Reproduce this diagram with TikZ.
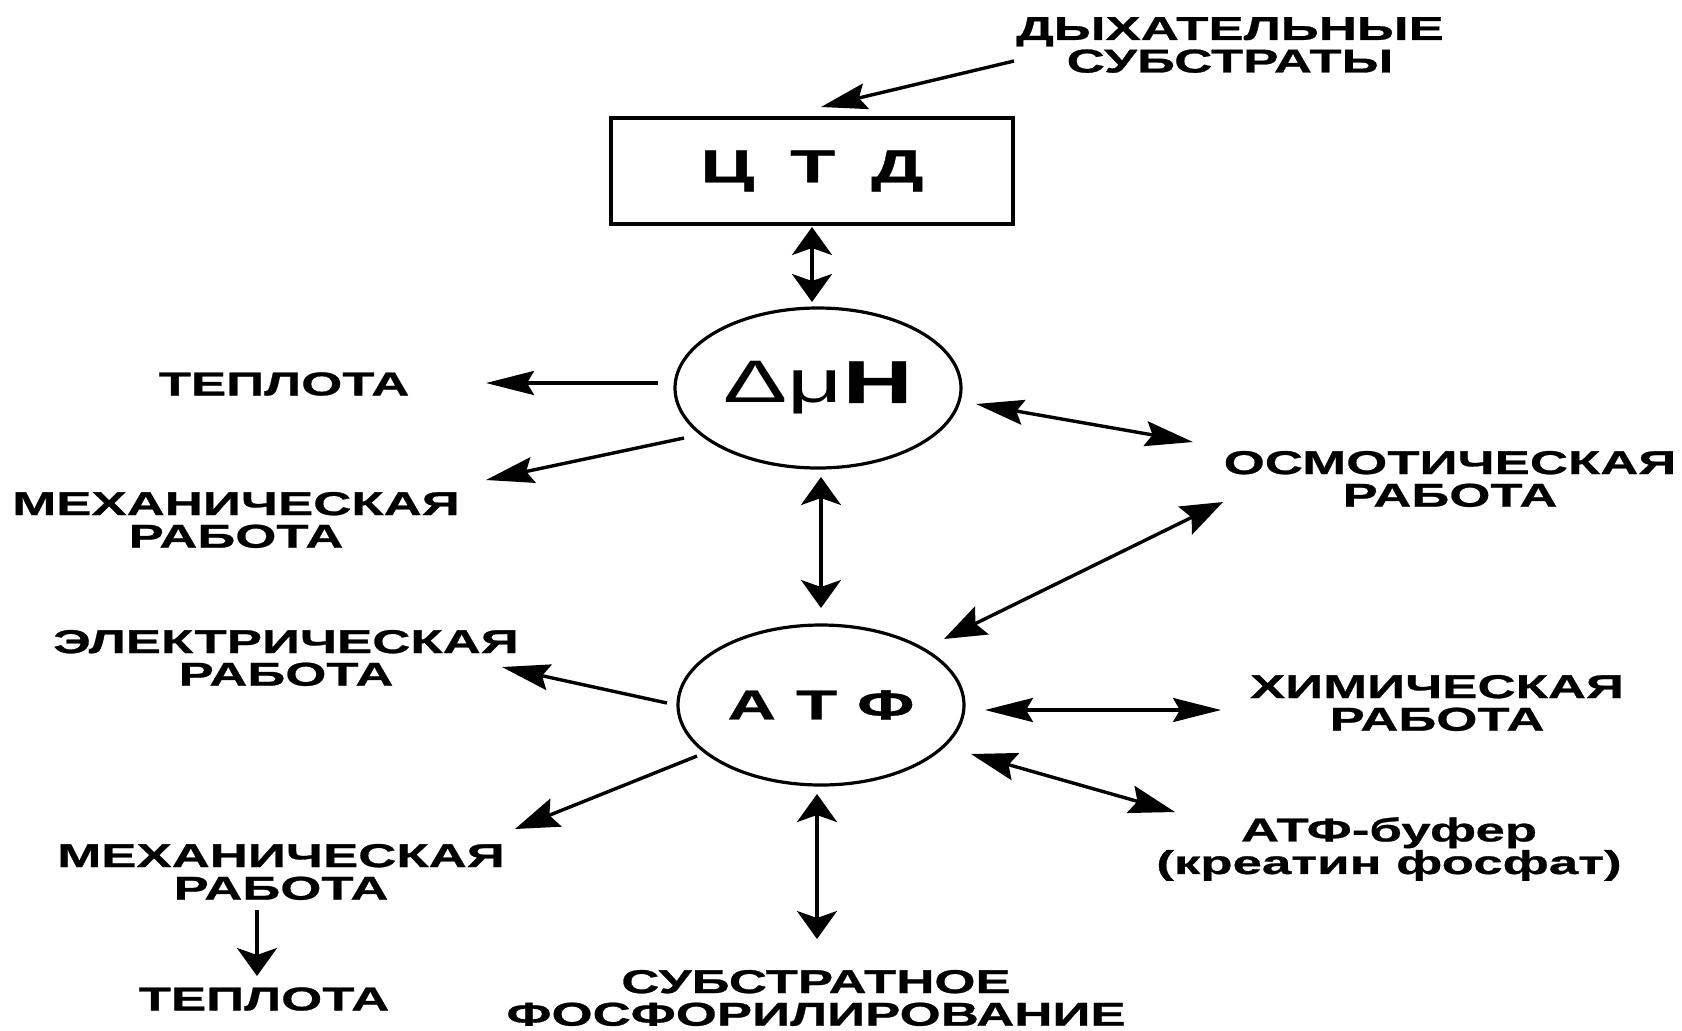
\documentclass[tikz,border=0pt]{standalone}
\usepackage{fontspec}
\setmainfont{Liberation Sans}[FakeStretch=1.6,BoldFeatures={FakeBold=0.8}]
\usetikzlibrary{arrows.meta,calc,shapes.geometric}
\begin{document}
\begin{tikzpicture}[x=0.5pt,y=-0.5pt,
  lbl/.style={align=center,inner sep=0pt,font=\fontsize{16.5}{16.3}\selectfont\bfseries},
  arr/.style 2 args={line width=1.7pt,-{Stealth[length=#1,width=#2,inset=3.5pt]}},
  darr/.style 2 args={line width=1.7pt,{Stealth[length=#1,width=#2,inset=3.5pt]}-{Stealth[length=#1,width=#2,inset=3.5pt]}},
  ell/.style={ellipse,draw,line width=1.6pt,minimum width=143pt,minimum height=80pt,inner sep=0pt}]
\useasboundingbox (0,0) rectangle (1682,1030);

% main nodes
\node[draw,line width=2pt,minimum width=201pt,minimum height=53pt,inner sep=0pt,
      font=\fontsize{23}{23}\selectfont\bfseries] (ctd) at (812,171) {{\spaceskip=18pt Ц Т Д}};
\node[ell,font=\fontsize{30}{30}\selectfont] (dmuH) at (818,388) {Δμ\textbf{H}};
\node[ell,font=\fontsize{21}{21}\selectfont\bfseries] (atf) at (821,705) {{\spaceskip=10pt А Т Ф}};

% labels
\node[lbl] (dyh) at (1230,45) {ДЫХАТЕЛЬНЫЕ\\СУБСТРАТЫ};
\node[lbl] (tep1) at (284,384) {ТЕПЛОТА};
\node[lbl] (mex1) at (236,520) {МЕХАНИЧЕСКАЯ\\РАБОТА};
\node[lbl] (osm) at (1450,479) {ОСМОТИЧЕСКАЯ\\РАБОТА};
\node[lbl] (el) at (286,658) {ЭЛЕКТРИЧЕСКАЯ\\РАБОТА};
\node[lbl] (him) at (1437,703) {ХИМИЧЕСКАЯ\\РАБОТА};
\node[lbl] (buf) at (1389,849) {АТФ-буфер\\(креатин фосфат)};
\node[lbl] (mex2) at (281,872) {МЕХАНИЧЕСКАЯ\\РАБОТА};
\node[lbl] (tep2) at (264,999) {ТЕПЛОТА};
\node[lbl] (sub) at (816,998) {СУБСТРАТНОЕ\\ФОСФОРИЛИРОВАНИЕ};

% connectors
\draw[arr={23pt}{13pt}] ($(dyh.center)+(-216,16)$) -- ($(ctd.center)+(9,-64)$);
\draw[darr={14pt}{20pt}] ($(ctd.center)+(0,56)$) -- ($(dmuH.center)+(-6,-86)$);
\draw[arr={24pt}{12pt}] ($(dmuH.center)+(-160,-5)$) -- ($(tep1.center)+(202,-1)$);
\draw[arr={24pt}{13pt}] ($(dmuH.center)+(-134,50)$) -- ($(mex1.center)+(250,-40)$);
\draw[darr={14pt}{20pt}] ($(dmuH.center)+(3,89)$) -- ($(atf.center)+(0,-97)$);
\draw[darr={24pt}{12.5pt}] ($(dmuH.center)+(158,16)$) -- ($(osm.center)+(-257,-37)$);
\draw[darr={21pt}{15.5pt}] ($(atf.center)+(123,-66)$) -- ($(osm.center)+(-227,23)$);
\draw[arr={24pt}{13pt}] ($(atf.center)+(-154,-2)$) -- ($(el.center)+(216,9)$);
\draw[darr={24pt}{12pt}] ($(atf.center)+(164,5)$) -- ($(him.center)+(-216,7)$);
\draw[darr={23pt}{14pt}] ($(atf.center)+(150,49)$) -- ($(buf.center)+(-214,-37)$);
\draw[arr={22pt}{15pt}] ($(atf.center)+(-124,51)$) -- ($(mex2.center)+(234,-43)$);
\draw[arr={14pt}{20pt}] ($(mex2.center)+(-24,38)$) -- ($(tep2.center)+(-7,-23)$);
\draw[darr={14pt}{20pt}] ($(atf.center)+(-4,89)$) -- ($(sub.center)+(1,-59)$);
\end{tikzpicture}
\end{document}
